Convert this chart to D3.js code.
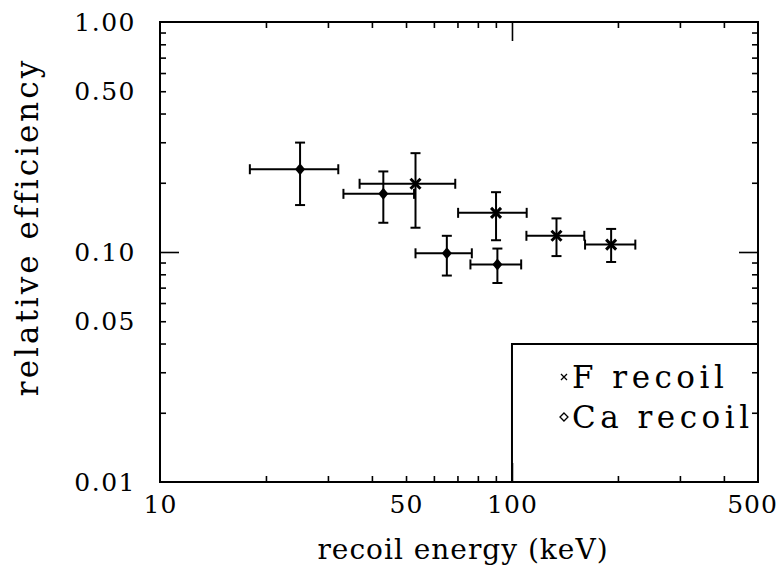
<!DOCTYPE html>
<html>
<head>
<meta charset="utf-8">
<script src="https://cdn.jsdelivr.net/npm/d3@7"></script>
<style>
  body { margin: 0; background: #fff; }
  text { font-family: "DejaVu Serif", serif; fill: #000; }
  .frame { fill: none; stroke: #000; stroke-width: 2; }
  .axis path { display: none; }
  .axis line { stroke: #000; stroke-width: 1.6; }
  .bar { stroke: #000; stroke-width: 2; }
</style>
</head>
<body>
<div id="chart"></div>
<script>
// Ca recoil points (energy in keV, relative efficiency)
var caEnergy   = [25.0, 43.1, 65.3, 90.9];
var caEnergyLo = [18.0, 33.2, 53.2, 76.2];
var caEnergyHi = [32.1, 52.7, 76.9, 106.2];
var caEff      = [0.229, 0.179, 0.0987, 0.0883];
var caEffLo    = [0.160, 0.134, 0.079, 0.0733];
var caEffHi    = [0.299, 0.224, 0.1176, 0.1035];

// F recoil points
var fEnergy   = [53.2, 90.1, 133.8, 191.3];
var fEnergyLo = [36.9, 70.3, 109.9, 161.3];
var fEnergyHi = [69.0, 110.1, 160.5, 224.1];
var fEff      = [0.198, 0.148, 0.1176, 0.1077];
var fEffLo    = [0.1275, 0.1125, 0.096, 0.0905];
var fEffHi    = [0.269, 0.182, 0.140, 0.126];

var xLabels = [10, 50, 100, 500];
var yLabels = [0.01, 0.05, 0.10, 0.50, 1.00];
var xMinor = [20, 30, 40, 50, 60, 70, 80, 90, 200, 300, 400];
var yMinor = [0.02, 0.03, 0.04, 0.05, 0.06, 0.07, 0.08, 0.09, 0.2, 0.3, 0.4, 0.5, 0.6, 0.7, 0.8, 0.9];
var legendNames = ["F recoil", "Ca recoil"];

var margin = {top: 22, right: 23, bottom: 88, left: 160},
    width = 781 - margin.left - margin.right,
    height = 570 - margin.top - margin.bottom;

var x = d3.scaleLog().domain([10, 500]).range([0, width]);
var y = d3.scaleLog().domain([0.01, 1]).range([height, 0]);

var svg = d3.select("#chart").append("svg")
    .attr("width", 781)
    .attr("height", 570)
    .append("g")
    .attr("transform", "translate(" + margin.left + "," + margin.top + ")");

// minor ticks on all four sides, pointing inwards
svg.append("g").attr("class", "axis")
    .attr("transform", "translate(0," + height + ")")
    .call(d3.axisBottom(x).tickValues(xMinor).tickSize(-6).tickFormat(""));
svg.append("g").attr("class", "axis")
    .call(d3.axisTop(x).tickValues(xMinor).tickSize(-6).tickFormat(""));
svg.append("g").attr("class", "axis")
    .call(d3.axisLeft(y).tickValues(yMinor).tickSize(-6).tickFormat(""));
svg.append("g").attr("class", "axis")
    .attr("transform", "translate(" + width + ",0)")
    .call(d3.axisRight(y).tickValues(yMinor).tickSize(-6).tickFormat(""));

// major ticks
svg.append("g").attr("class", "axis")
    .attr("transform", "translate(0," + height + ")")
    .call(d3.axisBottom(x).tickValues([100]).tickSize(-19).tickFormat(""));
svg.append("g").attr("class", "axis")
    .call(d3.axisTop(x).tickValues([100]).tickSize(-19).tickFormat(""));
svg.append("g").attr("class", "axis")
    .call(d3.axisLeft(y).tickValues([0.1]).tickSize(-19).tickFormat(""));
svg.append("g").attr("class", "axis")
    .attr("transform", "translate(" + width + ",0)")
    .call(d3.axisRight(y).tickValues([0.1]).tickSize(-19).tickFormat(""));

// tick labels
var xl = svg.append("g").attr("class", "axis")
    .attr("transform", "translate(0," + height + ")")
    .call(d3.axisBottom(x).tickValues(xLabels).tickSize(0).tickPadding(13)
        .tickFormat(d3.format("d")));
xl.selectAll("text")
    .style("font-size", "25px")
    .style("font-family", "DejaVu Serif")
    .style("letter-spacing", "1px")
    .attr("dx", function (d) { return d === 500 ? -6 : 0; });

var yl = svg.append("g").attr("class", "axis")
    .call(d3.axisLeft(y).tickValues(yLabels).tickSize(0).tickPadding(24)
        .tickFormat(d3.format(".2f")));
yl.selectAll("text")
    .style("font-size", "25px")
    .style("font-family", "DejaVu Serif")
    .style("letter-spacing", "1.5px");

svg.append("rect")
    .attr("class", "frame")
    .attr("width", width)
    .attr("height", height);

// axis titles
svg.append("text")
    .attr("x", width / 2 + 4)
    .attr("y", height + 77)
    .attr("text-anchor", "middle")
    .style("font-size", "28px")
    .style("letter-spacing", "1px")
    .text("recoil energy (keV)");

svg.append("text")
    .attr("transform", "rotate(-90)")
    .attr("x", -205)
    .attr("y", -122)
    .attr("text-anchor", "middle")
    .style("font-size", "31px")
    .style("letter-spacing", "3px")
    .text("relative efficiency");

// error bars
function drawSeries(ex, lo, hi, ey, eLo, eHi, marker) {
    var d = ex.map(function (v, i) {
        return {x: v, xl: lo[i], xh: hi[i], y: ey[i], yl: eLo[i], yh: eHi[i]};
    });
    var g = svg.append("g");
    var cap = 5;
    var pt = g.selectAll("g").data(d).enter().append("g");
    pt.append("line").attr("class", "bar")
        .attr("x1", function (p) { return x(p.xl); })
        .attr("x2", function (p) { return x(p.xh); })
        .attr("y1", function (p) { return y(p.y); })
        .attr("y2", function (p) { return y(p.y); });
    pt.append("line").attr("class", "bar")
        .attr("x1", function (p) { return x(p.x); })
        .attr("x2", function (p) { return x(p.x); })
        .attr("y1", function (p) { return y(p.yl); })
        .attr("y2", function (p) { return y(p.yh); });
    ["xl", "xh"].forEach(function (k) {
        pt.append("line").attr("class", "bar")
            .attr("x1", function (p) { return x(p[k]); })
            .attr("x2", function (p) { return x(p[k]); })
            .attr("y1", function (p) { return y(p.y) - cap; })
            .attr("y2", function (p) { return y(p.y) + cap; });
    });
    ["yl", "yh"].forEach(function (k) {
        pt.append("line").attr("class", "bar")
            .attr("x1", function (p) { return x(p.x) - cap; })
            .attr("x2", function (p) { return x(p.x) + cap; })
            .attr("y1", function (p) { return y(p[k]); })
            .attr("y2", function (p) { return y(p[k]); });
    });
    if (marker === "diamond") {
        pt.append("path")
            .attr("transform", function (p) { return "translate(" + x(p.x) + "," + y(p.y) + ")"; })
            .attr("d", "M0,-6L5,0L0,6L-5,0Z")
            .attr("fill", "#000");
    } else {
        pt.append("path")
            .attr("transform", function (p) { return "translate(" + x(p.x) + "," + y(p.y) + ")"; })
            .attr("d", "M-5,-5L5,5M-5,5L5,-5")
            .attr("stroke", "#000")
            .attr("stroke-width", 3);
    }
}

drawSeries(caEnergy, caEnergyLo, caEnergyHi, caEff, caEffLo, caEffHi, "diamond");
drawSeries(fEnergy, fEnergyLo, fEnergyHi, fEff, fEffLo, fEffHi, "cross");

// legend box
var lx = x(100), ly = 322;
svg.append("rect")
    .attr("class", "frame")
    .attr("x", lx)
    .attr("y", ly)
    .attr("width", width - lx)
    .attr("height", height - ly);

var leg = svg.selectAll(".leg").data(legendNames).enter().append("g")
    .attr("transform", function (d, i) { return "translate(" + (lx + 52) + "," + (ly + 33 + i * 40) + ")"; });
leg.append("path")
    .attr("d", function (d, i) {
        return i === 0 ? "M-3,-3L3,3M-3,3L3,-3" : "M0,-4L4,0L0,4L-4,0Z";
    })
    .attr("fill", "none")
    .attr("stroke", "#000")
    .attr("stroke-width", 1.3);
leg.append("text")
    .attr("x", 8)
    .attr("dy", "0.36em")
    .style("font-size", "31px")
    .style("letter-spacing", "4.5px")
    .text(function (d) { return d; });
</script>
</body>
</html>
